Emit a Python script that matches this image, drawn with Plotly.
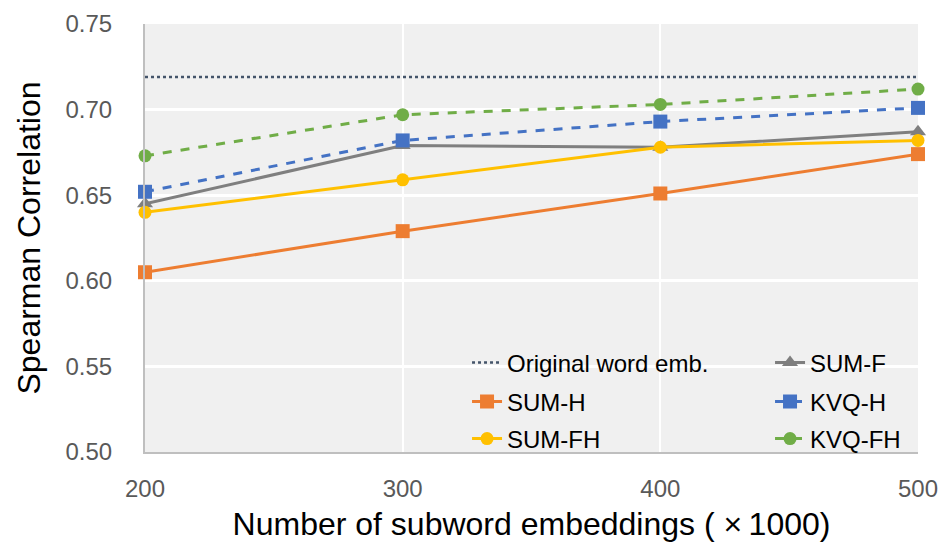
import plotly.graph_objects as go

sizes = [200, 300, 400, 500]
original_x = [200, 500]
original_y = [0.719, 0.719]
sum_h = [0.605, 0.629, 0.651, 0.674]
sum_fh = [0.640, 0.659, 0.678, 0.682]
sum_f = [0.645, 0.679, 0.678, 0.687]
kvq_h = [0.652, 0.682, 0.693, 0.701]
kvq_fh = [0.673, 0.697, 0.703, 0.712]
y_ticks = [0.50, 0.55, 0.60, 0.65, 0.70, 0.75]

fig = go.Figure()
fig.add_trace(go.Scatter(x=original_x, y=original_y, mode="lines", name="Original word emb.",
                         line=dict(color="#44546A", width=2.5, dash="dot"), legend="legend"))
fig.add_trace(go.Scatter(x=sizes, y=sum_f, mode="lines+markers", name="SUM-F",
                         line=dict(color="#7F7F7F", width=3),
                         marker=dict(symbol="triangle-up", size=14, color="#7F7F7F"), legend="legend"))
fig.add_trace(go.Scatter(x=sizes, y=sum_h, mode="lines+markers", name="SUM-H",
                         line=dict(color="#ED7D31", width=3),
                         marker=dict(symbol="square", size=14, color="#ED7D31"), legend="legend2"))
fig.add_trace(go.Scatter(x=sizes, y=kvq_h, mode="lines+markers", name="KVQ-H",
                         line=dict(color="#4472C4", width=3, dash="dash"),
                         marker=dict(symbol="square", size=14, color="#4472C4"), legend="legend2"))
fig.add_trace(go.Scatter(x=sizes, y=sum_fh, mode="lines+markers", name="SUM-FH",
                         line=dict(color="#FFC000", width=3),
                         marker=dict(symbol="circle", size=13, color="#FFC000"), legend="legend3"))
fig.add_trace(go.Scatter(x=sizes, y=kvq_fh, mode="lines+markers", name="KVQ-FH",
                         line=dict(color="#70AD47", width=3, dash="dash"),
                         marker=dict(symbol="circle", size=13, color="#70AD47"), legend="legend3"))
fig.update_traces(cliponaxis=False)

def leg(ypos):
    return dict(orientation="h", x=0.4166, xanchor="left", y=ypos, yanchor="middle",
                entrywidth=258, bgcolor="rgba(0,0,0,0)",
                font=dict(size=24, color="black", family="Liberation Sans, Arial, sans-serif"))

fig.update_layout(
    width=939, height=548,
    margin=dict(l=145, r=21, t=24, b=96, autoexpand=False),
    paper_bgcolor="white", plot_bgcolor="#F0F0F0",
    font=dict(family="Liberation Sans, Arial, sans-serif", color="black"),
    legend=leg((452 - 363) / 428),
    legend2=leg((452 - 402) / 428),
    legend3=leg((452 - 439) / 428),
    showlegend=True,
)
fig.update_xaxes(range=[200, 500], tickvals=sizes, ticktext=[str(s) for s in sizes],
                 showgrid=True, gridcolor="white", gridwidth=2,
                 showline=True, linecolor="#BFBFBF", linewidth=2,
                 zeroline=False, ticks="outside", ticklen=14, tickcolor="rgba(0,0,0,0)",
                 tickfont=dict(size=24, color="#595959"),
                 title=dict(text="Number of subword embeddings ( \u00d7\u20091000)",
                            font=dict(size=32, color="black"), standoff=12))
fig.update_yaxes(range=[0.5, 0.75], tickvals=y_ticks, tickformat=".2f",
                 showgrid=True, gridcolor="white", gridwidth=3,
                 showline=True, linecolor="#BFBFBF", linewidth=2,
                 zeroline=False, ticks="outside", ticklen=26, tickcolor="rgba(0,0,0,0)",
                 tickfont=dict(size=24, color="#595959"),
                 title=dict(text="Spearman Correlation", font=dict(size=32, color="black"), standoff=15))

fig.write_html("out.html")
